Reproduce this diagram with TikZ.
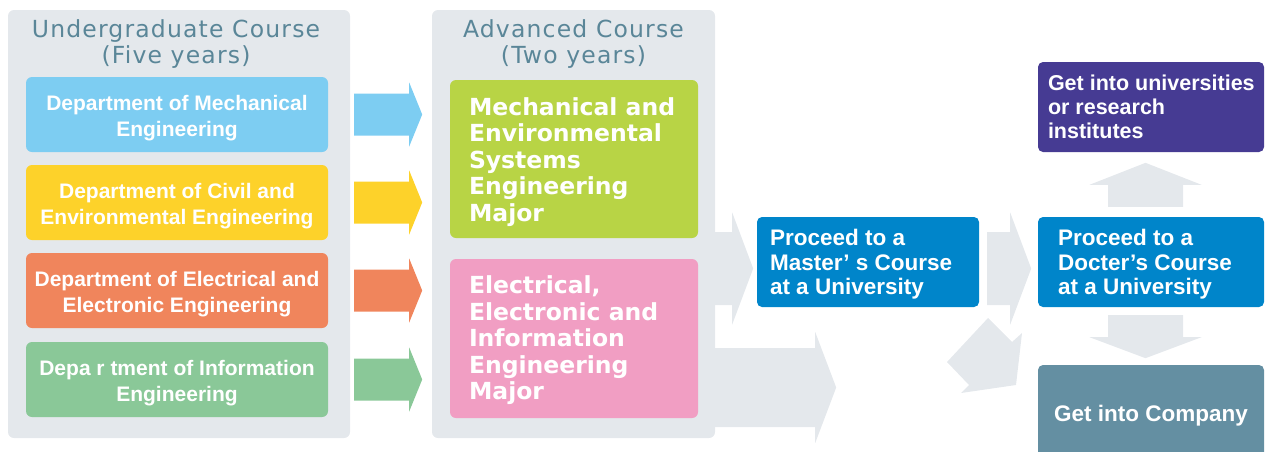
\documentclass[tikz,border=0pt]{standalone}
\usepackage{fontspec}
\usetikzlibrary{calc}
\newfontfamily\lib{Liberation Sans}
\newfontfamily\dvs{DejaVu Sans}
\newfontfamily\dvstitle[LetterSpace=5]{DejaVu Sans}
\definecolor{panel}{HTML}{E4E8EC}
\definecolor{ttl}{HTML}{5A8698}
\definecolor{cblue}{HTML}{7DCDF2}
\definecolor{cyel}{HTML}{FDD22A}
\definecolor{corg}{HTML}{F0855C}
\definecolor{cgrn}{HTML}{8AC898}
\definecolor{clime}{HTML}{B8D445}
\definecolor{cpink}{HTML}{F19EC3}
\definecolor{cdeep}{HTML}{0085CA}
\definecolor{cpurp}{HTML}{463B93}
\definecolor{ccomp}{HTML}{648FA2}
% left-aligned block of fixed width, first baseline raised by #2 above the node centre
\newcommand\lbox[3]{\makebox[#1][l]{\raisebox{#2}[0pt][0pt]{\begin{tabular}[t]{@{}l@{}}#3\end{tabular}}}}
% centred block, first baseline raised by #1 above the node centre
\newcommand\cbox[2]{\raisebox{#1}[0pt][0pt]{\begin{tabular}[t]{@{}c@{}}#2\end{tabular}}}
\tikzset{
  panelbox/.style={fill=panel, rounded corners=6pt, inner sep=0pt},
  titletext/.style={text=ttl, inner sep=0pt, font=\fontsize{23.5}{26.5}\selectfont\dvstitle},
  deptbox/.style={rounded corners=6pt, minimum width=302pt, minimum height=75pt, inner sep=0pt,
    text=white, font=\fontsize{21}{26}\selectfont\lib\bfseries},
  majorbox/.style={rounded corners=6pt, minimum width=248pt, inner sep=0pt, text=white,
    font=\fontsize{23.5}{26.5}\selectfont\dvs\bfseries},
  rbox/.style={rounded corners=5pt, inner sep=0pt, text=white,
    font=\fontsize{22.5}{24.5}\selectfont\lib\bfseries},
  pics/rarrow/.style args={#1/#2/#3/#4}{code={
    \fill (0,-#2) -- (#1,-#2) -- (#1,-#4) -- (#1+#3,0) -- (#1,#4) -- (#1,#2) -- (0,#2) -- cycle;}},
  pics/varrow/.style args={#1/#2/#3/#4}{code={
    \fill (-#2,0) -- (-#2,#1) -- (-#4,#1) -- (0,#1+#3) -- (#4,#1) -- (#2,#1) -- (#2,0) -- cycle;}},
}
\begin{document}
\begin{tikzpicture}[x=1pt,y=-1pt]
\clip (0,0) rectangle (1265,451);
\useasboundingbox (0,0) rectangle (1265,451);
% panels
\node[panelbox, minimum width=342pt, minimum height=428pt] (under) at (179,224) {};
\node[panelbox, minimum width=283pt, minimum height=428pt] (adv) at (573.5,224) {};
\node[titletext] (utitle) at (176,37) {\cbox{0pt}{Undergraduate Course\\(Five years)}};
\node[titletext] (atitle) at (573.5,37) {\cbox{0pt}{Advanced Course\\(Two years)}};
% departments
\node[deptbox, fill=cblue] (d1) at (177,114.5) {\cbox{4.5pt}{Department of Mechanical\\Engineering}};
\node[deptbox, fill=cyel] (d2) at (177,202.5) {\cbox{4.5pt}{Department of Civil and\\Environmental Engineering}};
\node[deptbox, fill=corg] (d3) at (177,290.5) {\cbox{4.5pt}{Department of Electrical and\\Electronic Engineering}};
\node[deptbox, fill=cgrn] (d4) at (177,379.5) {\cbox{4.5pt}{Depa r tment of Information\\Engineering}};
% majors
\node[majorbox, fill=clime, minimum height=158pt] (m1) at (574,159)
  {\lbox{210pt}{44pt}{Mechanical and\\Environmental\\Systems\\Engineering\\Major}};
\node[majorbox, fill=cpink, minimum height=159pt] (m2) at (574,338.5)
  {\lbox{210pt}{45pt}{Electrical,\\Electronic and\\Information\\Engineering\\Major}};
% right boxes
\node[rbox, fill=cdeep, minimum width=222pt, minimum height=90pt] (mast) at (868,262)
  {\lbox{196pt}{16.5pt}{Proceed to a\\Master’ s Course\\at a University}};
\node[rbox, fill=cdeep, minimum width=226pt, minimum height=90pt] (doc) at (1151,262)
  {\lbox{186pt}{16.5pt}{Proceed to a\\Docter’s Course\\at a University}};
\node[rbox, fill=cpurp, minimum width=226pt, minimum height=90pt,
  font=\fontsize{21.5}{24}\selectfont\lib\bfseries] (univ) at (1151,107)
  {\lbox{206pt}{16.5pt}{Get into universities\\or research\\institutes}};
\node[rbox, fill=ccomp, minimum width=226pt, minimum height=96pt] (comp) at (1151,413)
  {\raisebox{-8pt}[0pt][0pt]{Get into Company}};
% small coloured arrows
\pic[color=cblue] at ($(d1.east)+(26,0)$) {rarrow=55/21/13/32};
\pic[color=cyel]  at ($(d2.east)+(26,0)$) {rarrow=55/21/13/32};
\pic[color=corg]  at ($(d3.east)+(26,0)$) {rarrow=55/21/13/32};
\pic[color=cgrn]  at ($(d4.east)+(26,0)$) {rarrow=55/21/13/32};
% grey arrows
\pic[color=panel] at ($(adv.east |- mast.center)+(0,6.5)$) {rarrow=17/36.5/21/56};
\pic[color=panel] at ($(adv.east |- m2.center)+(0,49)$) {rarrow=100/39.5/21/55.5};
\pic[color=panel] at ($(mast.east)+(8,6.5)$) {rarrow=23/36.5/21/56};
\pic[color=panel] at ($(doc.north)+(-5.5,-10)$) {varrow=-22/37.5/-22/56};
\pic[color=panel] at ($(doc.south)+(-5.5,8)$) {varrow=22/37.5/21/56};
\fill[panel] (988,318) -- (1012,342) -- (1022,333) -- (1016,385) -- (961,393) -- (969,385) -- (947,362) -- cycle;
\end{tikzpicture}
\end{document}
